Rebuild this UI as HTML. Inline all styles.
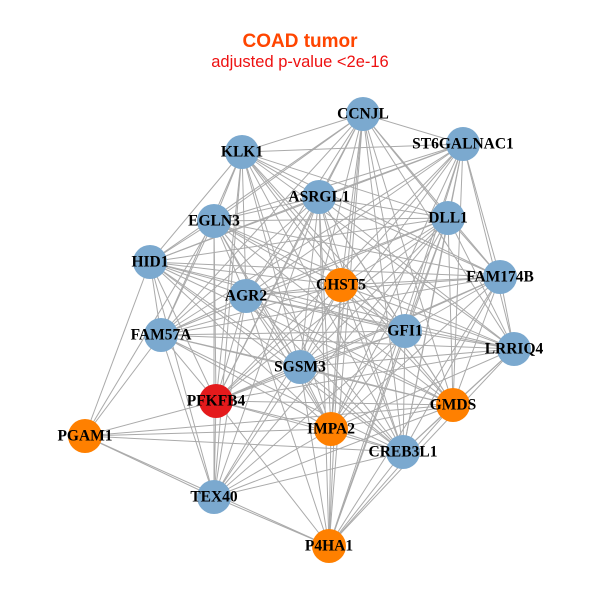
<!DOCTYPE html>
<html><head><meta charset="utf-8">
<style>
html,body{margin:0;padding:0;background:#fff;}
svg{display:block;}
.lab{font-family:"Liberation Serif",serif;font-weight:bold;font-size:15.5px;fill:#000;text-anchor:middle;dominant-baseline:central;}
</style></head>
<body>
<svg id="g" width="600" height="600" xmlns="http://www.w3.org/2000/svg">
<rect width="600" height="600" fill="#fff"/>
<text x="300" y="47" text-anchor="middle" font-family="Liberation Sans,sans-serif" font-weight="bold" font-size="19" fill="#FF4500">COAD tumor</text>
<text x="300" y="67" text-anchor="middle" font-family="Liberation Sans,sans-serif" font-size="16.5" fill="#EE1111">adjusted p-value &lt;2e-16</text>
<g id="edges" stroke="#AAAAAA" stroke-width="1"></g>
<g id="nodes"></g>
</svg>
<script>
var B="#7BA9CF",O="#FF8000",R="#E41A1C";
var N=[
["CCNJL",363,114,B],["ST6GALNAC1",463,144,B],["KLK1",242,152,B],["ASRGL1",319,197,B],
["DLL1",448,218,B],["EGLN3",214,221,B],["HID1",150,262,B],["CHST5",341,285,O],
["FAM174B",500,277,B],["AGR2",246,296,B],["GFI1",405,331,B],["FAM57A",161,335,B],
["LRRIQ4",514,349,B],["SGSM3",300,367,B],["PFKFB4",216,401,R],["GMDS",453,405,O],
["PGAM1",85,436,O],["IMPA2",331,429,O],["CREB3L1",403,452,B],["TEX40",214,497,B],
["P4HA1",329,546,O]];
var skip={"PGAM1":["CCNJL","ST6GALNAC1","DLL1","FAM174B","LRRIQ4","GFI1","CHST5","ASRGL1","KLK1","AGR2","SGSM3"],
"TEX40":["ST6GALNAC1","FAM174B","LRRIQ4","CCNJL"],"P4HA1":["HID1","EGLN3","KLK1","FAM57A"]};
var ns="http://www.w3.org/2000/svg",E=document.getElementById("edges"),V=document.getElementById("nodes");
function sk(a,b){return (skip[a]&&skip[a].indexOf(b)>=0)||(skip[b]&&skip[b].indexOf(a)>=0);}
for(var i=0;i<N.length;i++)for(var j=i+1;j<N.length;j++){
 if(sk(N[i][0],N[j][0]))continue;
 var l=document.createElementNS(ns,"line");
 l.setAttribute("x1",N[i][1]);l.setAttribute("y1",N[i][2]);l.setAttribute("x2",N[j][1]);l.setAttribute("y2",N[j][2]);
 E.appendChild(l);}
N.forEach(function(n){
 var c=document.createElementNS(ns,"circle");c.setAttribute("cx",n[1]);c.setAttribute("cy",n[2]);c.setAttribute("r",17);c.setAttribute("fill",n[3]);V.appendChild(c);
 var t=document.createElementNS(ns,"text");t.setAttribute("x",n[1]);t.setAttribute("y",n[2]);t.setAttribute("class","lab");t.textContent=n[0];V.appendChild(t);});
</script>
</body></html>
